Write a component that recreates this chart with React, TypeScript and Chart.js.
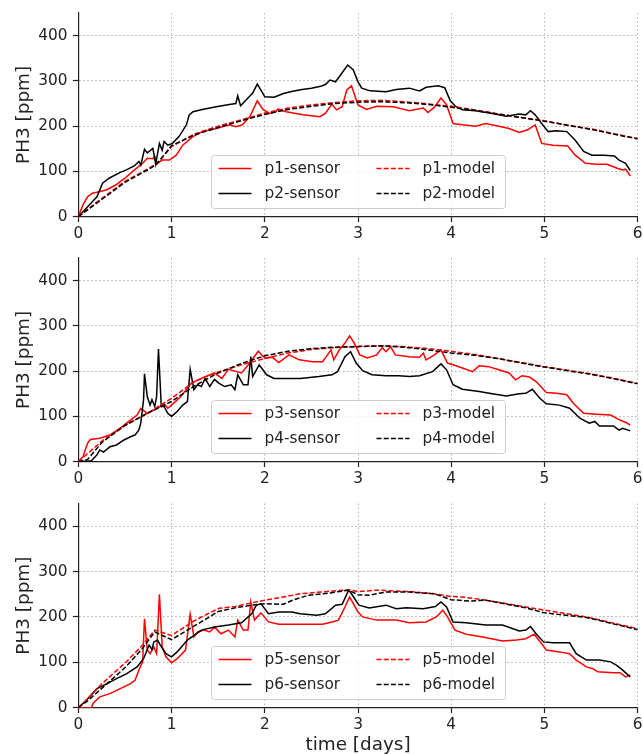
import React, { useEffect, useRef } from "react";
import { Chart, registerables } from "chart.js";

Chart.register(...registerables);

type Pt = [number, number];

// ---------- DATA (time [days], PH3 [ppm]) ----------
const xTicks = [0, 1, 2, 3, 4, 5, 6];
const yTicks = [0, 100, 200, 300, 400];

const p1Sensor: Pt[] = [[0,0],[0.05,26],[0.1,44],[0.15,52],[0.2,54],[0.3,59],[0.4,70],[0.5,85],[0.6,103],[0.69,118],[0.74,129],[0.8,128],[0.82,133],[0.85,118],[0.9,125],[0.98,125],[1.05,136],[1.12,158],[1.23,177],[1.33,188],[1.48,195],[1.62,203],[1.69,199],[1.76,203],[1.84,221],[1.92,256],[1.98,237],[2.05,228],[2.12,232],[2.14,238],[2.23,232],[2.41,225],[2.59,221],[2.65,228],[2.72,249],[2.77,236],[2.83,243],[2.88,280],[2.93,289],[2.97,265],[3.0,247],[3.09,237],[3.2,244],[3.38,243],[3.55,234],[3.7,240],[3.75,230],[3.82,242],[3.89,262],[3.95,247],[4.02,206],[4.12,203],[4.26,200],[4.37,206],[4.51,200],[4.62,195],[4.73,186],[4.82,192],[4.9,203],[4.97,162],[5.09,158],[5.25,156],[5.33,136],[5.44,118],[5.56,116],[5.67,116],[5.78,107],[5.84,103],[5.87,105],[5.92,90]];
const p2Sensor: Pt[] = [[0,0],[0.1,22],[0.2,44],[0.26,74],[0.33,85],[0.45,98],[0.51,103],[0.6,112],[0.65,122],[0.67,114],[0.71,149],[0.74,141],[0.8,151],[0.83,116],[0.87,162],[0.9,147],[0.92,166],[0.96,158],[1.01,162],[1.08,177],[1.16,203],[1.19,225],[1.23,232],[1.33,237],[1.48,243],[1.62,248],[1.69,250],[1.71,267],[1.74,245],[1.8,258],[1.87,273],[1.92,293],[1.97,276],[2.0,265],[2.1,264],[2.2,272],[2.3,277],[2.4,281],[2.5,284],[2.6,288],[2.65,292],[2.7,302],[2.76,298],[2.83,318],[2.89,335],[2.93,328],[2.95,324],[3.0,298],[3.04,284],[3.13,278],[3.3,276],[3.41,281],[3.55,284],[3.66,278],[3.73,286],[3.86,289],[3.93,285],[3.99,256],[4.05,243],[4.12,236],[4.26,234],[4.44,228],[4.59,222],[4.73,227],[4.8,225],[4.85,234],[4.9,225],[4.97,206],[5.04,188],[5.13,190],[5.24,188],[5.33,169],[5.42,144],[5.51,136],[5.64,136],[5.75,134],[5.8,125],[5.87,118],[5.92,102]];
const p1Model: Pt[] = [[0,0],[0.25,40],[0.5,78],[0.75,106],[0.85,118],[1.0,155],[1.25,183],[1.5,200],[1.75,214],[2.0,229],[2.25,240],[2.5,247],[2.75,252],[3.0,256],[3.25,257],[3.5,254],[3.75,249],[4.0,244],[4.25,236],[4.5,227],[4.75,219],[5.0,212],[5.25,202],[5.5,194],[5.75,183],[6.0,172]];
const p2Model: Pt[] = [[0,0],[0.25,38],[0.5,76],[0.75,104],[0.84,116],[1.0,157],[1.25,181],[1.5,197],[1.75,212],[2.0,226],[2.25,237],[2.5,244],[2.75,250],[3.0,253],[3.25,254],[3.5,252],[3.75,248],[4.0,242],[4.25,235],[4.5,227],[4.75,219],[5.0,211],[5.25,202],[5.5,193],[5.75,182],[6.0,172]];

const p3Sensor: Pt[] = [[0,0],[0.05,11],[0.1,41],[0.13,49],[0.23,52],[0.34,59],[0.45,74],[0.56,92],[0.63,103],[0.67,118],[0.74,107],[0.85,118],[0.92,128],[0.96,118],[1.0,125],[1.1,144],[1.21,173],[1.32,184],[1.46,196],[1.54,184],[1.61,204],[1.75,196],[1.84,218],[1.93,244],[2.0,229],[2.08,231],[2.15,219],[2.26,236],[2.37,225],[2.51,221],[2.62,221],[2.66,232],[2.71,247],[2.74,225],[2.8,247],[2.86,262],[2.91,278],[2.96,262],[3.02,236],[3.1,229],[3.2,236],[3.26,252],[3.3,243],[3.35,254],[3.4,236],[3.55,232],[3.66,231],[3.7,240],[3.73,225],[3.82,236],[3.89,247],[3.96,218],[4.02,214],[4.12,207],[4.23,199],[4.3,212],[4.4,210],[4.51,203],[4.62,196],[4.69,181],[4.76,190],[4.84,187],[4.91,177],[5.02,153],[5.13,151],[5.24,148],[5.31,129],[5.42,107],[5.56,105],[5.71,103],[5.81,92],[5.88,86],[5.92,81]];
const p4Sensor: Pt[] = [[0,0],[0.14,2],[0.2,15],[0.23,26],[0.27,21],[0.34,33],[0.41,37],[0.49,48],[0.56,55],[0.61,59],[0.65,70],[0.67,85],[0.7,137],[0.71,194],[0.74,144],[0.77,125],[0.79,137],[0.82,122],[0.84,144],[0.86,249],[0.89,122],[0.92,122],[0.96,107],[1.0,100],[1.06,111],[1.12,125],[1.17,133],[1.2,204],[1.24,159],[1.28,170],[1.32,166],[1.36,184],[1.41,166],[1.46,182],[1.51,173],[1.57,166],[1.64,170],[1.68,159],[1.71,192],[1.77,170],[1.82,170],[1.85,232],[1.87,188],[1.94,214],[2.02,192],[2.1,184],[2.24,184],[2.38,184],[2.58,188],[2.72,192],[2.78,199],[2.86,232],[2.92,243],[2.98,218],[3.05,201],[3.15,192],[3.3,190],[3.44,190],[3.55,188],[3.66,190],[3.8,199],[3.89,216],[3.95,203],[4.02,170],[4.12,160],[4.3,155],[4.44,150],[4.59,145],[4.73,150],[4.8,151],[4.87,160],[4.95,140],[5.02,128],[5.16,125],[5.27,118],[5.38,96],[5.48,85],[5.54,89],[5.59,79],[5.74,79],[5.8,70],[5.84,74],[5.92,68]];
const p3Model: Pt[] = [[0,0],[0.25,45],[0.5,80],[0.75,108],[1.0,140],[1.25,178],[1.5,198],[1.75,214],[2.0,228],[2.25,240],[2.5,248],[2.75,252],[3.0,255],[3.25,256],[3.5,254],[3.75,250],[4.0,244],[4.25,237],[4.5,228],[4.75,219],[5.0,210],[5.25,202],[5.5,194],[5.75,184],[6.0,173]];
const p4Model: Pt[] = [[0,0],[0.1,5],[0.25,42],[0.5,80],[0.75,108],[1.0,133],[1.25,168],[1.5,196],[1.75,217],[2.0,234],[2.25,244],[2.5,250],[2.75,253],[3.0,254],[3.25,256],[3.5,253],[3.75,247],[4.0,240],[4.25,235],[4.5,228],[4.75,218],[5.0,209],[5.25,201],[5.5,193],[5.75,183],[6.0,172]];

const p5Sensor: Pt[] = [[0,0],[0.14,0],[0.16,10],[0.23,24],[0.34,31],[0.45,42],[0.56,53],[0.61,61],[0.65,83],[0.69,101],[0.71,196],[0.74,127],[0.77,119],[0.81,134],[0.84,119],[0.87,250],[0.9,134],[0.94,112],[1.0,99],[1.06,108],[1.15,127],[1.2,206],[1.24,156],[1.28,167],[1.35,171],[1.41,167],[1.46,178],[1.53,163],[1.61,171],[1.68,156],[1.71,193],[1.77,171],[1.82,171],[1.85,233],[1.89,193],[1.96,209],[2.04,189],[2.15,184],[2.29,184],[2.47,184],[2.62,184],[2.72,189],[2.79,193],[2.86,222],[2.91,244],[3.0,211],[3.05,200],[3.2,193],[3.41,193],[3.55,187],[3.73,189],[3.84,200],[3.91,215],[3.96,200],[4.04,171],[4.16,162],[4.34,156],[4.55,147],[4.7,149],[4.8,152],[4.89,162],[4.97,141],[5.02,127],[5.16,123],[5.27,119],[5.34,105],[5.45,90],[5.52,86],[5.57,79],[5.74,77],[5.81,77],[5.87,68],[5.92,72]];
const p6Sensor: Pt[] = [[0,0],[0.09,17],[0.2,42],[0.31,53],[0.41,64],[0.52,75],[0.63,90],[0.7,108],[0.76,138],[0.79,128],[0.81,145],[0.85,149],[0.88,138],[0.94,119],[1.0,112],[1.06,123],[1.17,149],[1.32,171],[1.46,178],[1.61,182],[1.75,187],[1.86,207],[1.91,226],[1.96,229],[2.04,207],[2.15,211],[2.29,211],[2.38,207],[2.56,204],[2.65,207],[2.76,226],[2.83,228],[2.9,259],[2.93,251],[3.01,226],[3.12,220],[3.3,226],[3.41,218],[3.52,220],[3.7,218],[3.83,223],[3.89,233],[3.95,222],[4.02,189],[4.16,187],[4.37,182],[4.55,182],[4.73,169],[4.8,171],[4.85,179],[4.91,163],[4.99,145],[5.09,143],[5.27,143],[5.34,119],[5.45,105],[5.59,105],[5.71,101],[5.77,94],[5.82,86],[5.92,68]];
const p5Model: Pt[] = [[0,0],[0.1,20],[0.25,52],[0.4,80],[0.51,100],[0.69,138],[0.82,171],[1.0,159],[1.23,190],[1.39,207],[1.51,219],[1.68,223],[1.86,231],[2.0,237],[2.2,244],[2.38,251],[2.6,255],[2.9,260],[3.0,256],[3.2,259],[3.55,256],[3.82,251],[4.0,245],[4.12,244],[4.37,237],[4.8,222],[5.0,215],[5.45,200],[6.0,174]];
const p6Model: Pt[] = [[0,0],[0.1,15],[0.33,57],[0.51,90],[0.69,131],[0.82,167],[1.0,150],[1.17,171],[1.39,198],[1.5,212],[1.68,220],[1.86,226],[2.0,229],[2.2,228],[2.3,237],[2.47,248],[2.7,253],[2.9,259],[3.0,249],[3.12,248],[3.3,255],[3.55,255],[3.82,251],[4.0,238],[4.2,235],[4.37,237],[4.8,220],[5.0,209],[5.45,199],[6.0,172]];

const panelLabels = [
  ["p1-sensor", "p2-sensor", "p1-model", "p2-model"],
  ["p3-sensor", "p4-sensor", "p3-model", "p4-model"],
  ["p5-sensor", "p6-sensor", "p5-model", "p6-model"],
];
const panelSeries: Pt[][][] = [
  [p1Sensor, p2Sensor, p1Model, p2Model],
  [p3Sensor, p4Sensor, p3Model, p4Model],
  [p5Sensor, p6Sensor, p5Model, p6Model],
];

// ---------- STYLE / LAYOUT ----------
const FONT = "'DejaVu Sans', 'Liberation Sans', sans-serif";
const RED = "#ff0000";
const BLACK = "#000000";
const W = 643;
const layouts = [
  { top: 0, height: 245, padTop: 13, xAxisH: 28.3, xTitle: false },
  { top: 245, height: 245, padTop: 13, xAxisH: 28.3, xTitle: false },
  { top: 490, height: 264, padTop: 13.5, xAxisH: 46.3, xTitle: true },
];

const legendPlugin = {
  id: "insideLegend",
  afterDraw(chart: any) {
    const { ctx, chartArea } = chart;
    const ds = chart.data.datasets;
    const w = 294, h = 53, r = 3;
    const cx = (chartArea.left + chartArea.right) / 2;
    const x0 = Math.round(cx - w / 2) + 0.5;
    const y0 = Math.round(chartArea.bottom - 8.5 - h) + 0.5;
    ctx.save();
    ctx.beginPath();
    ctx.moveTo(x0 + r, y0);
    ctx.lineTo(x0 + w - r, y0);
    ctx.arcTo(x0 + w, y0, x0 + w, y0 + r, r);
    ctx.lineTo(x0 + w, y0 + h - r);
    ctx.arcTo(x0 + w, y0 + h, x0 + w - r, y0 + h, r);
    ctx.lineTo(x0 + r, y0 + h);
    ctx.arcTo(x0, y0 + h, x0, y0 + h - r, r);
    ctx.lineTo(x0, y0 + r);
    ctx.arcTo(x0, y0, x0 + r, y0, r);
    ctx.closePath();
    ctx.fillStyle = "rgba(255,255,255,0.8)";
    ctx.fill();
    ctx.strokeStyle = "#cccccc";
    ctx.lineWidth = 1;
    ctx.stroke();
    const colX = [x0 + 7, x0 + 165];
    const rowY = [y0 + 13, y0 + 38];
    const grid = [[0, 1], [2, 3]];
    ctx.font = `15.3px ${FONT}`;
    ctx.textBaseline = "middle";
    ctx.textAlign = "left";
    grid.forEach((col, ci) => {
      col.forEach((di, ri) => {
        const d = ds[di];
        const lx = colX[ci];
        const ly = rowY[ri];
        ctx.beginPath();
        ctx.setLineDash(d.borderDash || []);
        ctx.strokeStyle = d.borderColor;
        ctx.lineWidth = d.borderWidth;
        ctx.moveTo(lx, ly);
        ctx.lineTo(lx + 33, ly);
        ctx.stroke();
        ctx.setLineDash([]);
        ctx.fillStyle = "#222222";
        ctx.fillText(d.label, lx + 46, ly + 1);
      });
    });
    ctx.restore();
  },
};

function Panel({ idx }: { idx: number }) {
  const ref = useRef<HTMLCanvasElement>(null);
  const lay = layouts[idx];
  useEffect(() => {
    if (!ref.current) return;
    const labels = panelLabels[idx];
    const series = panelSeries[idx];
    const colors = [RED, BLACK, RED, BLACK];
    const datasets = series.map((s, i) => ({
      label: labels[i],
      data: s.map(([x, y]) => ({ x, y })),
      borderColor: colors[i],
      backgroundColor: colors[i],
      borderWidth: 1.5,
      borderDash: i >= 2 ? [5, 2.2] : [],
      pointRadius: 0,
      tension: 0,
      fill: false,
      order: i >= 2 ? 4 - i : 10 - i,
    }));
    const chart = new Chart(ref.current, {
      type: "line",
      data: { datasets },
      plugins: [legendPlugin],
      options: {
        animation: false,
        responsive: false,
        devicePixelRatio: 1,
        layout: { padding: { top: lay.padTop, right: 5.3, bottom: 0, left: 0 } },
        plugins: { legend: { display: false }, tooltip: { enabled: false } },
        scales: {
          x: {
            type: "linear",
            min: 0,
            max: 6,
            afterBuildTicks: (s: any) => {
              s.ticks = xTicks.map((v) => ({ value: v }));
            },
            afterFit: (s: any) => {
              s.height = lay.xAxisH;
              s.paddingLeft = 0;
              s.paddingRight = 0;
            },
            ticks: {
              stepSize: 1,
              color: "#222222",
              padding: 3,
              font: { family: FONT, size: 15.3, lineHeight: 1.2 },
              maxRotation: 0,
            },
            grid: {
              color: "#b0b0b0",
              lineWidth: 1,
              tickLength: 5.4,
              tickColor: "#222222",
              tickWidth: 1.2,
            },
            border: { display: true, color: "#222222", width: 1.2, dash: [1.5, 2.5] },
            title: {
              display: lay.xTitle,
              text: "time [days]",
              color: "#222222",
              font: { family: FONT, size: 18.4, lineHeight: 1.0 },
              padding: { top: 0, bottom: 0 },
            },
          },
          y: {
            type: "linear",
            min: 0,
            max: 450,
            afterBuildTicks: (s: any) => {
              s.ticks = yTicks.map((v) => ({ value: v }));
            },
            afterFit: (s: any) => {
              s.width = 78.3;
              s.paddingTop = 0;
              s.paddingBottom = 0;
            },
            ticks: {
              stepSize: 100,
              color: "#222222",
              padding: 5.4,
              font: { family: FONT, size: 15.3, lineHeight: 1.2 },
            },
            grid: {
              color: "#b0b0b0",
              lineWidth: 1,
              tickLength: 5.4,
              tickColor: "#222222",
              tickWidth: 1.2,
            },
            border: { display: true, color: "#222222", width: 1.2, dash: [1.5, 2.5] },
            title: {
              display: true,
              text: "PH3 [ppm]",
              color: "#222222",
              font: { family: FONT, size: 18.4, lineHeight: 1.2 },
              padding: { top: 13, bottom: 0 },
            },
          },
        },
      },
    } as any);
    return () => chart.destroy();
  }, [idx]);
  return (
    <canvas
      ref={ref}
      width={W}
      height={lay.height}
      style={{ position: "absolute", left: 0, top: lay.top, width: W, height: lay.height, display: "block" }}
    />
  );
}

export default function App() {
  return (
    <div style={{ position: "absolute", left: 0, top: 0, width: W, height: 754, background: "#ffffff", overflow: "hidden" }}>
      <Panel idx={0} />
      <Panel idx={1} />
      <Panel idx={2} />
    </div>
  );
}
